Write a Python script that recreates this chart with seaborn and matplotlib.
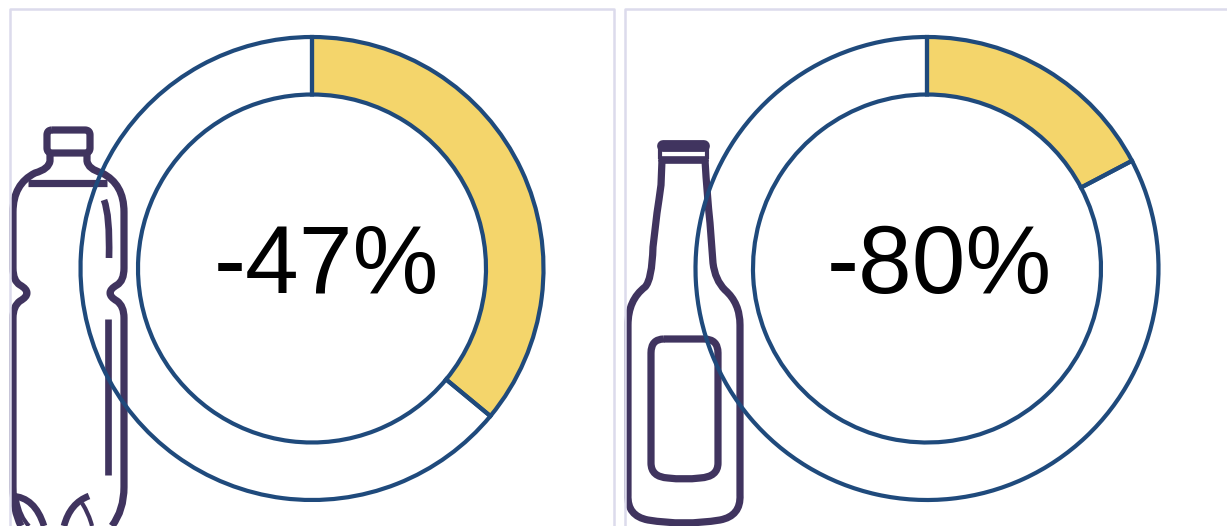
import matplotlib
matplotlib.use("Agg")
import matplotlib.pyplot as plt
from matplotlib.patches import PathPatch
from matplotlib.path import Path
import seaborn as sns

# Data

labels = ["-47%", "-80%"]
filled_share = [36.0, 17.3]
empty_share = [64.0, 82.7]

# Colours

yellow = "#f4d56b"
blue = "#1f4a7c"
purple = "#40345f"
border = "#dcdbec"

W, H = 1227, 526

sns.set_theme(style="white")
plt.rcParams["font.family"] = ["Liberation Sans", "DejaVu Sans"]

fig = plt.figure(figsize=(W / 100, H / 100), dpi=100, facecolor="white")

# Full figure axes in pixels, for panel borders and icons

bg = fig.add_axes([0, 0, 1, 1], zorder=1)
bg.set_xlim(0, W)
bg.set_ylim(H, 0)
bg.axis("off")

bg.plot([10, 10, 614, 614], [526, 9, 9, 526], color=border, lw=1.8)
bg.plot([625, 625, 1227], [526, 9, 9], color=border, lw=1.8)


def shape(parts, lw=5.2, cap="butt"):
    # parts: M / L / Q commands in pixel coordinates
    verts, codes = [], []
    for p in parts:
        if p[0] == "M":
            verts.append(p[1])
            codes.append(Path.MOVETO)
        elif p[0] == "L":
            verts.append(p[1])
            codes.append(Path.LINETO)
        else:
            verts += [p[1], p[2]]
            codes += [Path.CURVE3, Path.CURVE3]
    bg.add_patch(PathPatch(Path(verts, codes), fill=False, edgecolor=purple,
                           lw=lw, capstyle=cap, joinstyle="round"))


# Plastic bottle

shape([("M", (52, 130)), ("L", (85, 130)), ("Q", (90, 130), (90, 135)), ("L", (90, 148)),
       ("Q", (90, 153), (85, 153)), ("L", (52, 153)), ("Q", (47, 153), (47, 148)),
       ("L", (47, 135)), ("Q", (47, 130), (52, 130))])
shape([("M", (50, 154)), ("L", (50, 161)), ("Q", (49, 169), (35, 173)),
       ("Q", (13, 184), (13, 212)), ("L", (13, 268)), ("Q", (13, 281), (20, 285)),
       ("Q", (34, 293), (20, 301)), ("Q", (13, 306), (13, 318)), ("L", (13, 487)),
       ("Q", (13, 510), (21, 526))])
shape([("M", (87, 154)), ("L", (87, 161)), ("Q", (88, 169), (102, 173)),
       ("Q", (124, 184), (124, 212)), ("L", (124, 268)), ("Q", (124, 281), (117, 285)),
       ("Q", (103, 293), (117, 301)), ("Q", (124, 306), (124, 318)), ("L", (124, 487)),
       ("Q", (124, 510), (112, 526))])
shape([("M", (28, 183)), ("L", (107, 183))])
shape([("M", (104, 200)), ("Q", (110, 215), (109, 258))], lw=4.8)
shape([("M", (108, 319)), ("L", (108, 475))], lw=4.8)
shape([("M", (12, 496)), ("Q", (35, 497), (44, 526))], lw=4.8)
shape([("M", (17, 500)), ("Q", (20, 517), (29, 526))], lw=3.0)
shape([("M", (89, 496)), ("Q", (70, 503), (64, 526))], lw=4.8)
shape([("M", (82, 503)), ("Q", (89, 514), (92, 526))], lw=3.0)

# Glass bottle

shape([("M", (663, 146)), ("L", (704, 146))], lw=8.5, cap="round")
shape([("M", (662, 159.5)), ("L", (705, 159.5))], lw=5.5, cap="round")
shape([("M", (660, 146)), ("L", (660, 159))], lw=3.0)
shape([("M", (707, 146)), ("L", (707, 159))], lw=3.0)
shape([("M", (662, 160)), ("L", (661, 185)), ("Q", (659, 200), (657, 213)),
       ("L", (653, 247)), ("Q", (652, 280), (645, 287)), ("Q", (628, 300), (628, 325)),
       ("L", (628, 495)), ("Q", (627, 516), (648, 520)), ("Q", (684, 526), (720, 520)),
       ("Q", (741, 516), (740, 495)), ("L", (740, 325)), ("Q", (740, 303), (725, 290)),
       ("Q", (715, 280), (713, 263)), ("L", (710, 223)), ("Q", (707, 195), (705, 160))])
shape([("M", (664, 339)), ("L", (704, 339)), ("Q", (718, 339), (718, 353)), ("L", (718, 463)),
       ("Q", (718, 477), (700, 478)), ("Q", (684, 480), (668, 478)),
       ("Q", (651, 477), (651, 463)), ("L", (651, 353)), ("Q", (651, 339), (664, 339))])

# Donut charts

centers = [312, 927]
cy = 268.5
r_out = 231.5
r_in = 174

palette = sns.color_palette([yellow, "white"])

for i, cx in enumerate(centers):
    ax = fig.add_axes([(cx - r_out) / W, 1 - (cy + r_out) / H, 2 * r_out / W, 2 * r_out / H],
                      zorder=2)
    ax.patch.set_alpha(0)
    wedges, _ = ax.pie([filled_share[i], empty_share[i]], colors=palette, radius=1,
                       startangle=90, counterclock=False,
                       wedgeprops={"width": 1 - r_in / r_out, "edgecolor": blue,
                                   "linewidth": 3.0})
    wedges[1].set_facecolor("none")
    ax.set_xlim(-1, 1)
    ax.set_ylim(-1, 1)
    for w in wedges:
        w.set_clip_on(False)

# Percent labels

top = fig.add_axes([0, 0, 1, 1], zorder=3)
top.set_xlim(0, W)
top.set_ylim(H, 0)
top.axis("off")

for label, x in zip(labels, [326, 939]):
    top.text(x, 293, label, ha="center", va="baseline", fontsize=69.5, color="black")

fig.savefig("out.png", dpi=100, facecolor="white")
